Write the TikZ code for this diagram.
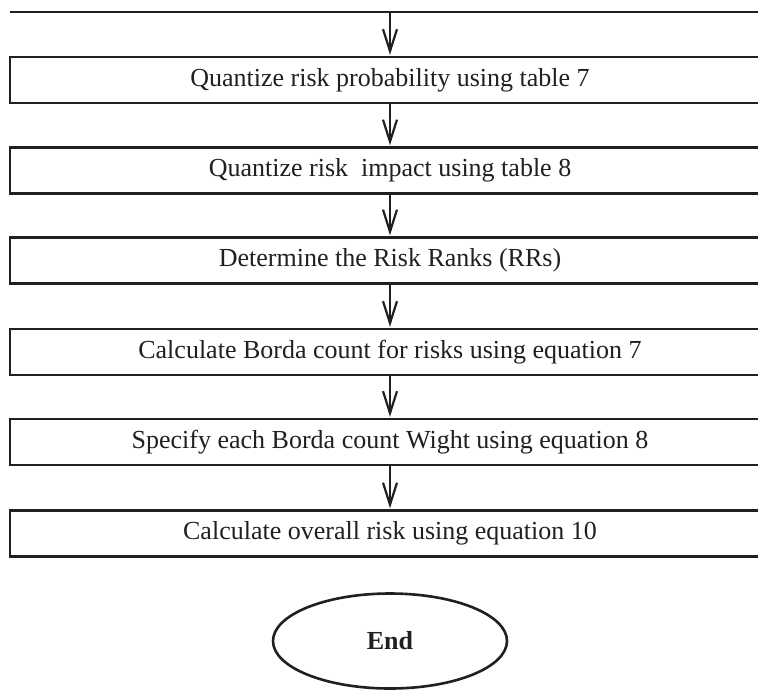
\documentclass[tikz,border=0pt]{standalone}
\usepackage{fontspec}
\setmainfont{Liberation Serif}
\usetikzlibrary{arrows.meta,shapes.geometric}
\definecolor{ink}{RGB}{35,31,32}
\tikzset{
  stepbox/.style={draw=ink, line width=2.8pt, rectangle, minimum width=760pt, minimum height=46pt, inner sep=0pt, text=ink, font=\fontsize{26}{30}\selectfont},
  flow/.style={draw=ink, line width=2.2pt, shorten >=0.8pt, -{Straight Barb[length=22pt,width=14pt,line width=2.2pt]}},
  endnode/.style={draw=ink, line width=2.6pt, ellipse, minimum width=234pt, minimum height=95pt, inner sep=0pt, text=ink, font=\fontsize{26}{30}\selectfont\bfseries}
}
\begin{document}
\begin{tikzpicture}[x=1pt,y=-1pt]
\clip (0,0) rectangle (758,689);
\fill[white] (0,0) rectangle (758,689);
\coordinate (tl) at (10,12);
\coordinate (tr) at (775,12);
\coordinate (top) at (390,12);
\draw[draw=ink, line width=2.8pt] (tl) -- (tr);
\node[stepbox] (b1) at (390,80) {Quantize risk probability using table 7};
\node[stepbox] (b2) at (390,170.5) {Quantize risk\ \ impact using table 8};
\node[stepbox] (b3) at (390,260.5) {Determine the Risk Ranks (RRs)};
\node[stepbox] (b4) at (390,352) {Calculate Borda count for risks using equation 7};
\node[stepbox] (b5) at (390,442) {Specify each Borda count Wight using equation 8};
\node[stepbox] (b6) at (390,533.5) {Calculate overall risk using equation 10};
\node[endnode] (end) at (390,641) {End};
\draw[flow] (top) -- (b1.north);
\draw[flow] (b1.south) -- (b2.north);
\draw[flow] (b2.south) -- (b3.north);
\draw[flow] (b3.south) -- (b4.north);
\draw[flow] (b4.south) -- (b5.north);
\draw[flow] (b5.south) -- (b6.north);
\end{tikzpicture}
\end{document}
